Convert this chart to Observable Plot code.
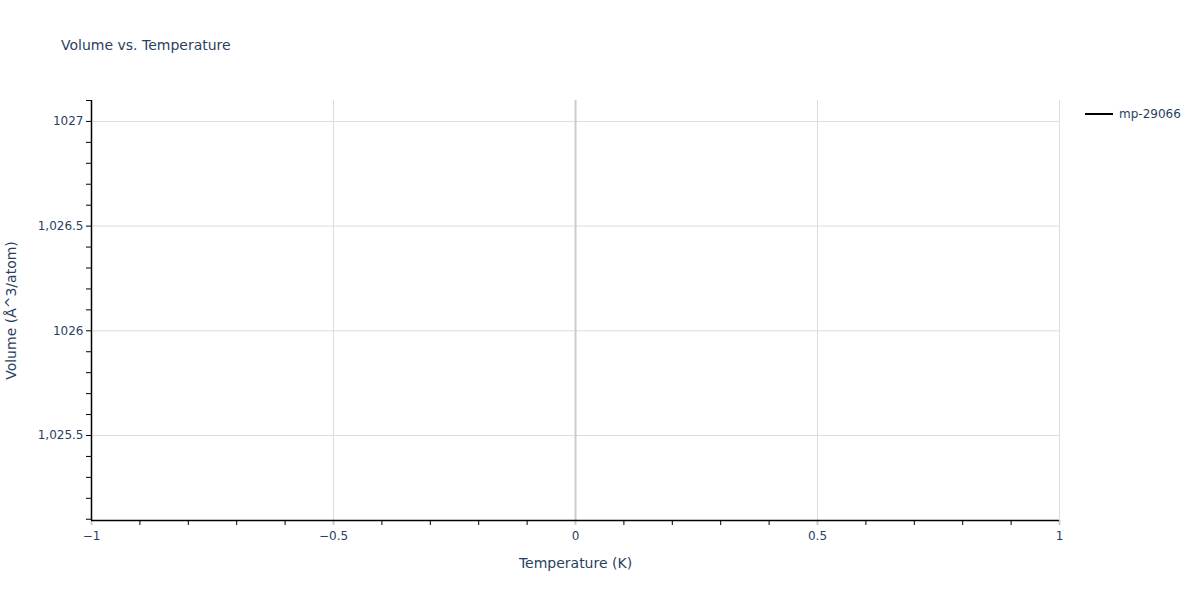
<!DOCTYPE html>
<html>
<head>
<meta charset="utf-8">
<script src="https://cdn.jsdelivr.net/npm/d3@7"></script>
<script src="https://cdn.jsdelivr.net/npm/@observablehq/plot@0.6"></script>
<style>
  html, body { margin: 0; padding: 0; background: #fff; }
  #wrap { position: relative; width: 1200px; height: 600px; font-family: "DejaVu Sans", sans-serif; }
  #title { position: absolute; left: 61px; top: 37px; font-size: 14px; color: #2a3f5f; white-space: nowrap; }
  #legend { position: absolute; left: 1085px; top: 107px; font-size: 12px; color: #2a3f5f; display: flex; align-items: center; white-space: nowrap; }
  #legend .sw { width: 28px; height: 2px; background: #000; margin-right: 6px; }
  #chart { position: absolute; left: 0; top: 0; }
</style>
</head>
<body>
<div id="wrap">
  <div id="chart"></div>
  <div id="title">Volume vs. Temperature</div>
  <div id="legend"><span class="sw"></span><span>mp-29066</span></div>
</div>
<script>
// Data (single series, one point — a line with one point draws nothing)
const seriesName = "mp-29066";
const temperatures = [0];
const volumes = [1026.097];

// Axes
const xDomain = [-1, 1];
const yDomain = [1025.094, 1027.1];
const xTicks = [-1, -0.5, 0, 0.5, 1];
const xTickLabels = ["−1", "−0.5", "0", "0.5", "1"];
const yTicks = [1025.5, 1026, 1026.5, 1027];
const yTickLabels = ["1,025.5", "1026", "1,026.5", "1027"];
const xMinor = d3.range(-10, 11).map(d => d / 10).filter(d => !xTicks.some(t => Math.abs(t - d) < 1e-9));
const yMinor = d3.range(10251, 10272).map(d => d / 10).filter(d => !yTicks.some(t => Math.abs(t - d) < 1e-9));

const rows = temperatures.map((t, i) => ({T: t, V: volumes[i], s: seriesName}));

const chart = Plot.plot({
  width: 1200,
  height: 600,
  marginLeft: 91,
  marginRight: 141,
  marginTop: 100,
  marginBottom: 80,
  style: {fontFamily: "'DejaVu Sans', sans-serif", color: "#2a3f5f", background: "transparent"},
  x: {domain: xDomain, label: null},
  y: {domain: yDomain, label: null},
  marks: [
    Plot.gridY(yTicks, {stroke: "#dddddd", strokeOpacity: 1, strokeWidth: 1}),
    Plot.gridX(xTicks.filter(d => d !== 0), {stroke: "#dddddd", strokeOpacity: 1, strokeWidth: 1}),
    Plot.ruleX([0], {stroke: "#cccccc", strokeWidth: 2}),
    Plot.line(rows, {x: "T", y: "V", stroke: "#000", strokeWidth: 2, strokeLinecap: "butt"}),
    // minor ticks
    Plot.axisX(xMinor, {tickSize: 5, text: null, label: null, stroke: "#000", strokeOpacity: 1}),
    Plot.axisY(yMinor, {tickSize: 5, text: null, label: null, stroke: "#000", strokeOpacity: 1}),
    // major ticks with labels
    Plot.axisX(xTicks, {tickSize: 5, stroke: "#cccccc", strokeOpacity: 1, strokeWidth: 2,
      tickFormat: (d, i) => xTickLabels[i], fontSize: 12, fill: "#2a3f5f", tickPadding: 6,
      label: "Temperature (K)", labelAnchor: "center", labelArrow: "none", labelOffset: 47}),
    Plot.axisY(yTicks, {tickSize: 5, stroke: "#000", strokeOpacity: 1,
      tickFormat: (d, i) => yTickLabels[i], fontSize: 12, fill: "#2a3f5f", tickPadding: 3,
      label: "Volume (Å^3/atom)", labelAnchor: "center", labelArrow: "none", labelOffset: 85}),
    Plot.ruleY([yDomain[0]], {stroke: "#000", strokeWidth: 1.5}),
    Plot.ruleX([xDomain[0]], {stroke: "#000", strokeWidth: 1.5})
  ]
});
chart.querySelectorAll("g[aria-label='x-axis label'] text, g[aria-label='y-axis label'] text").forEach(t => {
  t.style.fontSize = "14px";
});
document.getElementById("chart").appendChild(chart);
</script>
</body>
</html>
